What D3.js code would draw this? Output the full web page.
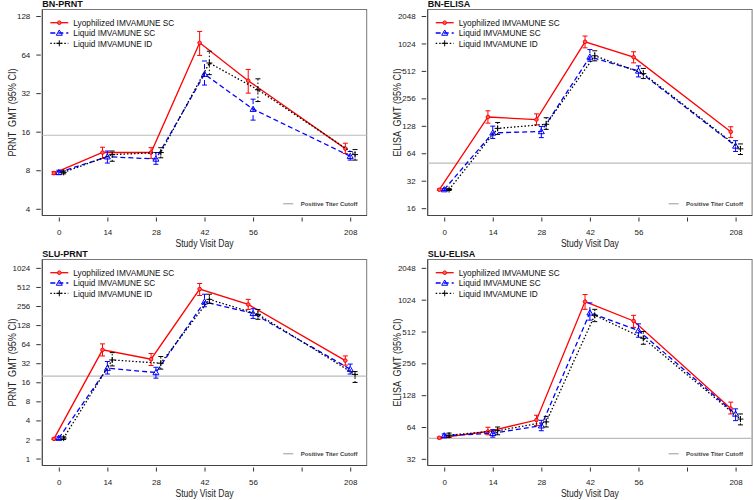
<!DOCTYPE html>
<html>
<head>
<meta charset="utf-8">
<script src="https://cdn.jsdelivr.net/npm/d3@7"></script>
<style>
  body { margin: 0; background: #fff; }
  svg { display: block; font-family: "Liberation Sans", Arial, sans-serif; }
  text { white-space: pre; }
</style>
</head>
<body>
<svg id="chart" width="753" height="500"></svg>
<script>
// study days on the x axis (slot 5 is an unlabelled gap before day 208)
const dayLabels = ["0", "14", "28", "42", "56", "", "208"];
const daySlots = [0, 1, 2, 3, 4, 6];
const groups = ["Lyophilized IMVAMUNE SC", "Liquid IMVAMUNE SC", "Liquid IMVAMUNE ID"];

// GMT and 95% CI, rows = groups in the order above
const bnPrntGmt = [[7.6, 11.0, 11.0, 79, 40, 11.8], [7.7, 10.2, 9.8, 45, 24, 10.3], [7.7, 10.6, 11.0, 55, 34, 10.6]];
const bnPrntLo  = [[7.4, 9.9, 9.9, 63, 32, 10.8], [7.4, 9.1, 8.9, 37, 19.7, 9.6], [7.5, 9.4, 10.0, 44.6, 27.5, 9.6]];
const bnPrntHi  = [[7.8, 12.1, 12.0, 97, 49, 13.0], [8.0, 11.3, 11.0, 57, 28.7, 11.2], [7.9, 11.3, 12.0, 68, 41.4, 11.6]];

const bnElisaGmt = [[25.5, 160, 150, 1067, 724, 110], [25.6, 107, 111, 729, 512, 77], [25.6, 120, 133, 750, 478, 71.5]];
const bnElisaLo  = [[25, 137, 131, 917, 627, 95], [25, 93, 95, 653, 440, 67], [25, 103, 117, 660, 422, 62]];
const bnElisaHi  = [[26, 187, 173, 1235, 830, 125], [26.2, 127, 126, 878, 581, 88], [26.2, 139, 157, 851, 545, 81]];

const sluPrntGmt = [[2.04, 52, 37, 474, 271, 35.2], [2.1, 26.7, 22.8, 298, 196, 25.8], [2.1, 36, 32, 326, 189, 21.3]];
const sluPrntLo  = [[2.0, 41.6, 29.4, 375, 226, 29.8], [2.0, 21.6, 18.6, 249, 163, 21.6], [2.0, 29, 25.8, 282, 158, 15.9]];
const sluPrntHi  = [[2.1, 64.6, 45.5, 581, 326, 41.7], [2.2, 34, 27.6, 393, 232, 31], [2.2, 47, 40.8, 393, 226, 23.6]];

const sluElisaGmt = [[50.6, 58, 74.5, 982, 644, 95.6], [53, 55.8, 65.8, 770, 523, 85], [53.5, 59, 71.5, 729, 442, 76]];
const sluElisaLo  = [[49.5, 54, 66, 830, 560, 85], [51, 51.3, 59, 656, 452, 73.5], [51, 54, 64, 635, 388, 67]];
const sluElisaHi  = [[51.5, 63.6, 82.6, 1146, 728, 110], [55, 60.5, 74, 955, 605, 95], [56, 64, 80.6, 830, 512, 85]];

const panels = [
  { title: "BN-PRNT", ylab: "PRNT  GMT (95% CI)", gmt: bnPrntGmt, lo: bnPrntLo, hi: bnPrntHi,
    cutoff: 15, yTicks: [4, 8, 16, 32, 64, 128], yDomain: [2 ** 1.826, 2 ** 7.169], x: 42.3, y: 9.5 },
  { title: "BN-ELISA", ylab: "ELISA  GMT (95% CI)", gmt: bnElisaGmt, lo: bnElisaLo, hi: bnElisaHi,
    cutoff: 50, yTicks: [16, 32, 64, 128, 256, 512, 1024, 2048], yDomain: [2 ** 3.733, 2 ** 11.237], x: 427.7, y: 9.5 },
  { title: "SLU-PRNT", ylab: "PRNT  GMT (95% CI)", gmt: sluPrntGmt, lo: sluPrntLo, hi: sluPrntHi,
    cutoff: 20, yTicks: [1, 2, 4, 8, 16, 32, 64, 128, 256, 512, 1024], yDomain: [2 ** -0.366, 2 ** 10.44], x: 42.3, y: 259.5 },
  { title: "SLU-ELISA", ylab: "ELISA  GMT (95% CI)", gmt: sluElisaGmt, lo: sluElisaLo, hi: sluElisaHi,
    cutoff: 50, yTicks: [32, 64, 128, 256, 512, 1024, 2048], yDomain: [2 ** 4.79, 2 ** 11.263], x: 427.7, y: 259.5 }
];

const colors = ["#ff0000", "#0000ff", "#000000"];
const dashes = [null, "5,3", "1.5,2"];
const offsets = [-0.1, 0, 0.1];

const W = 324.4, H = 206;
const svg = d3.select("#chart");

function drawSymbol(g, i, cx, cy) {
  if (i === 0) {
    g.append("circle").attr("cx", cx).attr("cy", cy).attr("r", 1.8)
      .attr("fill", "#ff6060").attr("stroke", colors[0]).attr("stroke-width", 1);
  } else if (i === 1) {
    const s = 3;
    g.append("path")
      .attr("d", `M${cx},${cy - s}L${cx + s},${cy + s * 0.75}L${cx - s},${cy + s * 0.75}Z`)
      .attr("fill", "none").attr("stroke", colors[1]).attr("stroke-width", 1);
  } else {
    const s = 3;
    g.append("path")
      .attr("d", `M${cx - s},${cy}H${cx + s}M${cx},${cy - s}V${cy + s}`)
      .attr("stroke", colors[2]).attr("stroke-width", 1);
  }
}

panels.forEach((p) => {
  const g = svg.append("g").attr("transform", `translate(${p.x},${p.y})`);
  const x = d3.scaleLinear().domain([-0.34, 6.34]).range([0, W]);
  const y = d3.scaleLog().base(2).domain(p.yDomain).range([H, 0]);

  // box
  g.append("rect").attr("width", W).attr("height", H)
    .attr("fill", "none").attr("stroke", "#777").attr("stroke-width", 1);

  // y axis
  const yAxis = g.append("g").attr("transform", "translate(-1.5,0)")
    .call(d3.axisLeft(y).tickValues(p.yTicks).tickFormat(d3.format("d")).tickSize(4.5).tickPadding(6));
  yAxis.select(".domain").remove();
  yAxis.selectAll("line").attr("stroke", "#333");
  yAxis.selectAll("text").attr("font-size", 8).attr("fill", "#222").attr("font-family", null);
  g.append("line").attr("x1", 0).attr("x2", 0).attr("y1", 0).attr("y2", H).attr("stroke", "#444");

  // x axis
  const xAxis = g.append("g").attr("transform", `translate(0,${H + 2})`)
    .call(d3.axisBottom(x).tickValues([0, 1, 2, 3, 4, 5, 6]).tickFormat((d) => dayLabels[d]).tickSize(4).tickPadding(7.5));
  xAxis.select(".domain").remove();
  xAxis.selectAll("line").attr("stroke", "#333");
  xAxis.selectAll("text").attr("font-size", 8).attr("fill", "#222").attr("font-family", null);
  g.append("line").attr("x1", 0).attr("x2", W).attr("y1", H).attr("y2", H).attr("stroke", "#444");

  // titles
  g.append("text").attr("x", 0).attr("y", -2.5).attr("font-size", 9).attr("font-weight", "bold")
    .attr("fill", "#111").text(p.title);
  g.append("text").attr("x", W / 2 - 29).attr("y", H + 31.5)
    .attr("font-size", 10).attr("textLength", 58).attr("lengthAdjust", "spacingAndGlyphs")
    .attr("fill", "#222").text("Study Visit Day");
  g.append("text").attr("transform", `translate(-26.5,${H / 2 + 44}) rotate(-90)`)
    .attr("xml:space", "preserve").attr("textLength", 88).attr("lengthAdjust", "spacingAndGlyphs")
    .attr("font-size", 10).attr("fill", "#222").text(p.ylab);

  // cutoff line
  g.append("line").attr("x1", 0).attr("x2", W).attr("y1", y(p.cutoff)).attr("y2", y(p.cutoff))
    .attr("stroke", "#bbb").attr("stroke-width", 1.2);

  // series
  groups.forEach((name, i) => {
    const pts = daySlots.map((slot, k) => ({
      cx: x(slot + offsets[i]), v: p.gmt[i][k], lo: p.lo[i][k], hi: p.hi[i][k]
    }));
    const line = d3.line().x((d) => d.cx).y((d) => y(d.v));
    g.append("path").datum(pts).attr("d", line).attr("fill", "none")
      .attr("stroke", colors[i]).attr("stroke-width", 1.3).attr("stroke-dasharray", dashes[i]);
    const eb = g.append("g").attr("stroke", colors[i]).attr("stroke-width", 1);
    pts.forEach((d) => {
      eb.append("line").attr("x1", d.cx).attr("x2", d.cx).attr("y1", y(d.lo)).attr("y2", y(d.hi))
        .attr("stroke-dasharray", dashes[i]);
      eb.append("line").attr("x1", d.cx - 2.5).attr("x2", d.cx + 2.5).attr("y1", y(d.lo)).attr("y2", y(d.lo));
      eb.append("line").attr("x1", d.cx - 2.5).attr("x2", d.cx + 2.5).attr("y1", y(d.hi)).attr("y2", y(d.hi));
      drawSymbol(g, i, d.cx, y(d.v));
    });
  });

  // legend
  const legWidths = [101, 82, 79];
  const leg = g.append("g").attr("transform", "translate(8,13.2)");
  groups.forEach((name, i) => {
    const ly = i * 10.3;
    leg.append("line").attr("x1", 0).attr("x2", 18).attr("y1", ly).attr("y2", ly)
      .attr("stroke", colors[i]).attr("stroke-width", 1.3).attr("stroke-dasharray", dashes[i]);
    drawSymbol(leg, i, 9, ly);
    leg.append("text").attr("x", 23).attr("y", ly + 3.3).attr("font-size", 9.2)
      .attr("textLength", legWidths[i]).attr("lengthAdjust", "spacingAndGlyphs")
      .attr("fill", "#111").text(name);
  });

  // cutoff legend
  const cl = g.append("g").attr("transform", `translate(${W - 83.5},${H - 11.7})`);
  cl.append("line").attr("x1", 0).attr("x2", 10).attr("y1", 0).attr("y2", 0).attr("stroke", "#999");
  cl.append("text").attr("x", 17.5).attr("y", 2.2).attr("font-size", 6).attr("font-weight", "bold")
    .attr("fill", "#444").text("Positive Titer Cutoff");
});
</script>
</body>
</html>
